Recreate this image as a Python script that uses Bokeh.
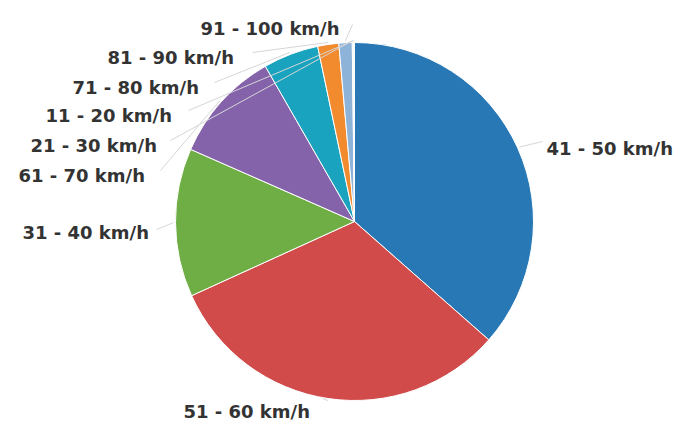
import math
from bokeh.plotting import figure
from bokeh.models import Range1d, ColumnDataSource
from bokeh.core.properties import value
from bokeh.embed import file_html
from bokeh.resources import INLINE

# ---- data (slices clockwise from 12 o'clock) ----
categories = ["41 - 50 km/h", "51 - 60 km/h", "31 - 40 km/h", "61 - 70 km/h",
              "71 - 80 km/h", "81 - 90 km/h", "91 - 100 km/h", "21 - 30 km/h",
              "11 - 20 km/h"]
shares = [36.5, 31.7, 13.4, 10.1, 5.0, 1.9, 1.2, 0.1, 0.1]
colors = ["#2778b4", "#d24b4b", "#6eae45", "#8563ab", "#1aa3be", "#f28a2e",
          "#8eb3d9", "#c9d9ec", "#dfe7f1"]

# ---- layout (screen pixel coordinates; y measured downward) ----
W, H = 674, 422
CX, CY, R = 354, 221, 179
label_x = [546, 183, 22, 18, 72, 107, 200, 30, 45]
label_y = [148, 411, 232, 175, 87, 57, 28, 145, 115]
anchor_x = [542, 322, 156, 160, 214, 252, 352, 170, 188]
anchor_y = [141, 398, 229, 170, 82, 52, 24, 140, 110]


def yd(y):
    return H - y


p = figure(width=W, height=H, output_backend="svg", toolbar_location=None,
           x_range=Range1d(0, W), y_range=Range1d(0, H), min_border=0)
p.axis.visible = False
p.grid.visible = False
p.outline_line_color = None
p.background_fill_color = "white"

total = sum(shares)
starts, ends, mids = [], [], []
cum = 0.0
for s in shares:
    a0 = math.pi / 2 - cum / total * 2 * math.pi
    cum += s
    a1 = math.pi / 2 - cum / total * 2 * math.pi
    starts.append(a0)
    ends.append(a1)
    mids.append((a0 + a1) / 2)

src = ColumnDataSource(dict(start=starts, end=ends, color=colors))
p.wedge(x=CX, y=yd(CY), radius=R, start_angle="start", end_angle="end",
        direction="clock", fill_color="color", line_color="white",
        line_width=1, source=src)

# leader lines from slice mid-angle to label anchor
xs, ys = [], []
for m, ax, ay in zip(mids, anchor_x, anchor_y):
    px = CX + (R + 2) * math.cos(m)
    py = yd(CY) + (R + 2) * math.sin(m)
    xs.append([px, ax])
    ys.append([py, yd(ay)])
p.multi_line(xs=xs, ys=ys, line_color="#d6d6d6", line_width=1)

p.text(x=label_x, y=[yd(v) for v in label_y], text=categories,
       text_font=value("DejaVu Sans"), text_font_style="bold",
       text_font_size="18px", text_color="#333333",
       text_baseline="middle", text_align="left")

open("out.html", "w").write(file_html(p, INLINE))
